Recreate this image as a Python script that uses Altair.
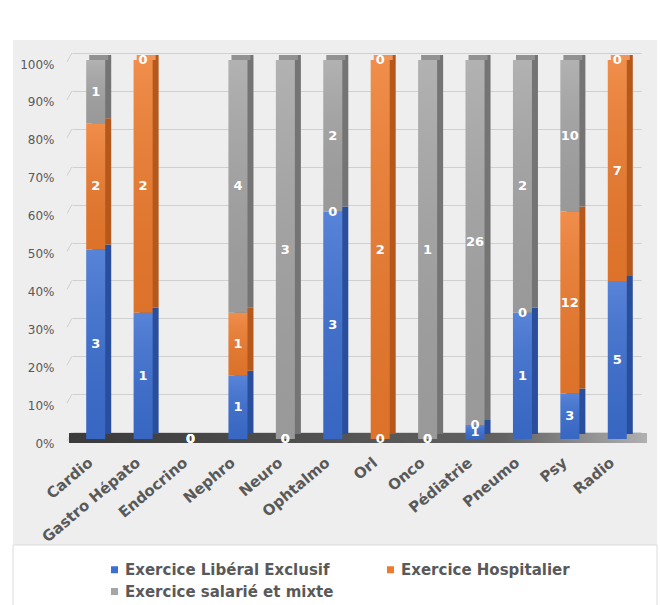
import altair as alt
import pandas as pd

# Specialties and head counts per practice mode
categories = ["Cardio", "Gastro Hépato", "Endocrino", "Nephro", "Neuro", "Ophtalmo",
              "Orl", "Onco", "Pédiatrie", "Pneumo", "Psy", "Radio"]
liberal = [3, 1, 0, 1, 0, 3, 0, 0, 1, 1, 3, 5]
hospitalier = [2, 2, 0, 1, 0, 0, 2, 0, 0, 0, 12, 7]
salarie = [1, 0, 0, 4, 3, 2, 0, 1, 26, 2, 10, 0]

series = ["Exercice Libéral Exclusif", "Exercice Hospitalier", "Exercice salarié et mixte"]
front_colors = ["#3c6fd2", "#ee7b2d", "#a5a5a5"]
side_colors = ["#294f9c", "#b4581c", "#747474"]
top_colors = ["#5b86d8", "#f0945a", "#929292"]
grid_levels = [0.0, 0.1, 0.2, 0.3, 0.4, 0.5, 0.6, 0.7, 0.8, 0.9, 1.0]
floor_level = [0.0]

rows = []
for i, cat in enumerate(categories):
    for j, (name, vals) in enumerate(zip(series, [liberal, hospitalier, salarie])):
        rows.append({"cat": cat, "serie": name, "order": j, "n": vals[i],
                     "side": side_colors[j], "top": top_colors[j]})
df = pd.DataFrame(rows)

W, H = 569, 379
FONT = "DejaVu Sans"
one = pd.DataFrame({"k": [0]})

x_enc = alt.X(
    "cat:N", sort=categories,
    scale=alt.Scale(paddingInner=0, paddingOuter=0),
    axis=alt.Axis(title=None, labelAngle=-40, labelAlign="right", labelBaseline="middle",
                  labelFont=FONT, labelFontWeight="bold", labelFontSize=15,
                  labelColor="#595959", domain=False, ticks=False, labelPadding=21,
                  labelOffset=-5, zindex=1),
)
y_scale = alt.Scale(domain=[0, 1], nice=False)
# Gridlines sit on the back wall, a few pixels above the column scale
y_axis = alt.Axis(title=None, format="%", values=grid_levels, grid=True,
                  gridColor="#d0d0d0", gridWidth=1, tickOffset=-7,
                  domain=False, ticks=False, labelPadding=18, labelOffset=11,
                  labelFont=FONT, labelFontSize=12, labelColor="#595959", zindex=0)

# White margins around the grey chart panel (the canvas itself is grey)
top_strip = alt.Chart(one).mark_rect(fill="white").encode(
    x=alt.value(-72), x2=alt.value(W + 19), y=alt.value(-60), y2=alt.value(-20))
left_strip = alt.Chart(one).mark_rect(fill="white").encode(
    x=alt.value(-72), x2=alt.value(-59), y=alt.value(-60), y2=alt.value(H + 166))
right_strip = alt.Chart(one).mark_rect(fill="white").encode(
    x=alt.value(585), x2=alt.value(W + 19), y=alt.value(-60), y2=alt.value(H + 166))
legend_box = alt.Chart(one).mark_rect(fill="white", stroke="#dcdcdc", strokeWidth=1).encode(
    x=alt.value(-59), x2=alt.value(585), y=alt.value(H + 106), y2=alt.value(H + 170))

# Perspective stubs joining the labels to the back-wall gridlines
grid_df = pd.DataFrame({"v": grid_levels})
stubs = alt.Chart(grid_df).mark_rule(color="#d0d0d0", strokeWidth=1, yOffset=2, y2Offset=-7).encode(
    y=alt.Y("v:Q", scale=y_scale, axis=y_axis), y2="v:Q", x=alt.value(-5), x2=alt.value(0))

# Floor under the columns, anchored on the 0 % level
floor = alt.Chart(pd.DataFrame({"f": floor_level})).mark_rect(
    color=alt.Gradient(gradient="linear", x1=0, x2=1, y1=0, y2=0,
                       stops=[alt.GradientStop(color="#3a3a3a", offset=0),
                              alt.GradientStop(color="#626262", offset=0.75),
                              alt.GradientStop(color="#b0b0b0", offset=1)]),
    yOffset=-6, y2Offset=4,
).encode(y=alt.Y("f:Q", scale=y_scale, axis=y_axis), y2="f:Q",
         x=alt.value(-3), x2=alt.value(575))

base = (
    alt.Chart(df)
    .transform_joinaggregate(total="sum(n)", groupby=["cat"])
    .transform_calculate(pct="datum.total > 0 ? datum.n / datum.total : 0")
    .transform_stack(stack="pct", groupby=["cat"], as_=["y0", "y1"],
                     sort=[alt.SortField("order", order="ascending")])
    .transform_calculate(mid="(datum.y0 + datum.y1) / 2")
)

# Side faces of the columns
sides = base.mark_bar(size=19, xOffset=6, yOffset=-5, y2Offset=-5).encode(
    x=x_enc,
    y=alt.Y("y0:Q", scale=y_scale, axis=y_axis), y2="y1:Q",
    fill=alt.Fill("side:N", scale=None),
)

# Top face on the upper segment of each column
tops = base.transform_filter("datum.n > 0 && datum.y1 > 0.999").mark_bar(
    size=19, xOffset=3, yOffset=-5, y2Offset=0).encode(
    x=x_enc,
    y=alt.Y("y1:Q", scale=y_scale, axis=y_axis), y2="y1:Q",
    fill=alt.Fill("top:N", scale=None),
)

fronts = base.mark_bar(size=19).encode(
    x=x_enc,
    y=alt.Y("y0:Q", scale=y_scale, axis=y_axis),
    y2="y1:Q",
    color=alt.Color("serie:N", scale=alt.Scale(domain=series, range=front_colors),
                    legend=alt.Legend(orient="none", legendX=35, legendY=502,
                                      direction="horizontal", columns=2, title=None,
                                      symbolType="square", symbolSize=49,
                                      symbolStrokeWidth=0, labelFont=FONT,
                                      labelFontWeight="bold", labelFontSize=15,
                                      labelColor="#595959", columnPadding=49,
                                      rowPadding=6, labelOffset=3, labelLimit=320,
                                      padding=0)),
)

# Soft vertical shading over each front face
shade = base.mark_bar(
    size=19,
    color=alt.Gradient(gradient="linear", x1=0, x2=0, y1=0, y2=1,
                       stops=[alt.GradientStop(color="rgba(255,255,255,0.14)", offset=0),
                              alt.GradientStop(color="rgba(0,0,0,0.07)", offset=1)]),
).encode(
    x=x_enc,
    y=alt.Y("y0:Q", scale=y_scale, axis=y_axis),
    y2="y1:Q",
)

labels = base.mark_text(font=FONT, fontWeight="bold", fontSize=13, color="white",
                        baseline="middle", align="center").encode(
    x=x_enc,
    y=alt.Y("mid:Q", scale=y_scale, axis=y_axis),
    text=alt.Text("n:Q"),
)

chart = (
    alt.layer(top_strip, left_strip, right_strip, legend_box, stubs, floor,
              sides, tops, fronts, shade, labels)
    .properties(width=W, height=H,
                autosize=alt.AutoSizeParams(type="none"),
                padding={"left": 72, "top": 60, "right": 19, "bottom": 166},
                background="#eeeeee")
    .configure_view(stroke=None)
)

chart.save("out.html", embed_options={"renderer": "svg", "actions": False})
